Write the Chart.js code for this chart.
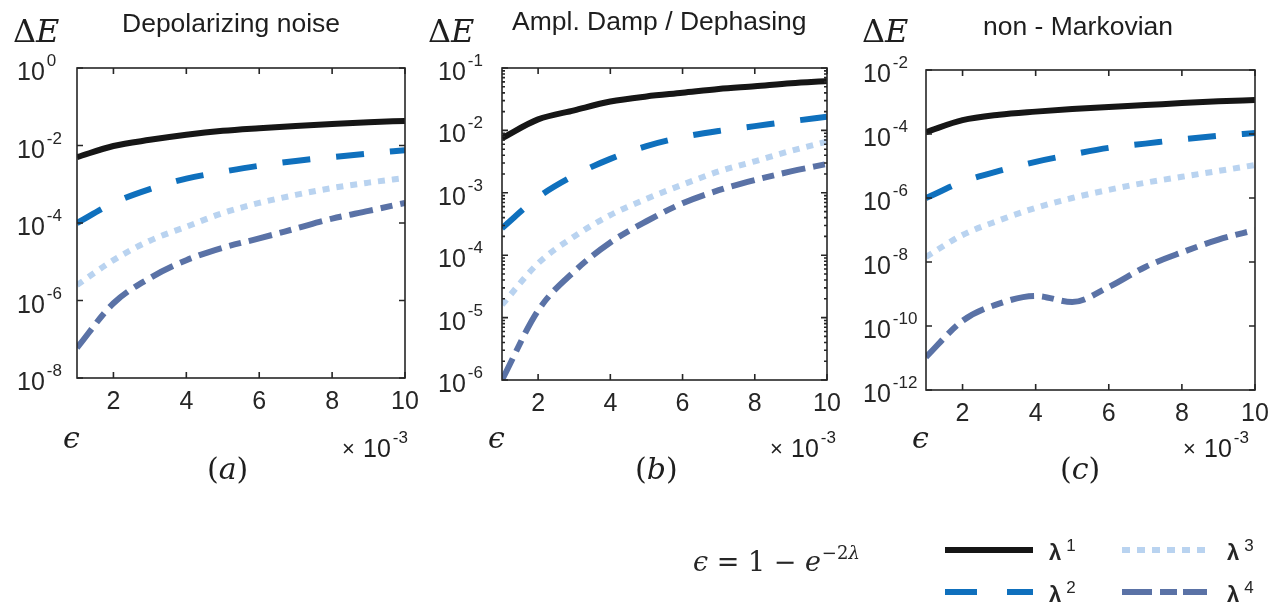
<!DOCTYPE html>
<html>
<head>
<meta charset="utf-8">
<script src="https://cdn.jsdelivr.net/npm/chart.js@4.4.0/dist/chart.umd.min.js"></script>
<style>
  html, body { margin: 0; background: #fff; width: 1269px; height: 602px; overflow: hidden; }
  canvas { position: absolute; top: 0; }
</style>
</head>
<body>
<canvas id="panelA" width="420" height="500" style="left:0"></canvas>
<canvas id="panelB" width="420" height="500" style="left:420px"></canvas>
<canvas id="panelC" width="419" height="500" style="left:850px"></canvas>
<canvas id="legend" width="589" height="82" style="left:680px;top:520px"></canvas>
<script>
// epsilon, in units of 10^-3
const eps = [1, 2, 3, 4, 5, 6, 7, 8, 9, 10];
const xTicks = [2, 4, 6, 8, 10];

// (a) depolarizing noise
const depol1 = [0.005, 0.0097, 0.014, 0.019, 0.024, 0.028, 0.032, 0.036, 0.040, 0.043];
const depol2 = [1e-4, 3.3e-4, 7.5e-4, 1.4e-3, 2.1e-3, 3.0e-3, 4.0e-3, 5.0e-3, 6.2e-3, 7.6e-3];
const depol3 = [2.5e-6, 1.1e-5, 3.5e-5, 8e-5, 1.8e-4, 3.3e-4, 5.3e-4, 8e-4, 1.1e-3, 1.45e-3];
const depol4 = [6e-8, 8.5e-7, 3.8e-6, 1.1e-5, 2.3e-5, 4e-5, 7.2e-5, 1.3e-4, 2.05e-4, 3.3e-4];
const depolTicks = [0, -2, -4, -6, -8];

// (b) amplitude damping / dephasing
const ampl1 = [0.0075, 0.015, 0.021, 0.029, 0.035, 0.040, 0.046, 0.051, 0.057, 0.062];
const ampl2 = [2.7e-4, 8.5e-4, 1.9e-3, 3.5e-3, 5.6e-3, 7.8e-3, 9.8e-3, 1.17e-2, 1.4e-2, 1.65e-2];
const ampl3 = [1.6e-5, 7.4e-5, 2e-4, 4.4e-4, 8e-4, 1.35e-3, 2.2e-3, 3.2e-3, 4.7e-3, 6.6e-3];
const ampl4 = [1e-6, 1.3e-5, 5.5e-5, 1.6e-4, 3.5e-4, 6.8e-4, 1.1e-3, 1.6e-3, 2.2e-3, 2.9e-3];
const amplTicks = [-1, -2, -3, -4, -5, -6];

// (c) non-Markovian
const nonMark1 = [1.15e-4, 2.7e-4, 4e-4, 5e-4, 6e-4, 7e-4, 8e-4, 9.3e-4, 1.05e-3, 1.15e-3];
const nonMark2 = [1e-6, 3.2e-6, 7e-6, 1.35e-5, 2.3e-5, 3.7e-5, 5e-5, 6.8e-5, 8.8e-5, 1.07e-4];
const nonMark3 = [1.45e-8, 7e-8, 2e-7, 4.9e-7, 1e-6, 1.8e-6, 3e-6, 4.6e-6, 7e-6, 1.07e-5];
const nonMark4 = [1.07e-11, 1.45e-10, 5e-10, 8.7e-10, 5.6e-10, 1.66e-9, 7e-9, 2e-8, 5e-8, 1e-7];
const nonMarkTicks = [-2, -4, -6, -8, -10, -12];

const seriesNames = ["λ", "λ", "λ", "λ"];
const seriesPowers = ["1", "2", "3", "4"];
const lineColors = ["#161616", "#0f70bd", "#b9d3f0", "#5a72a6"];
const lineDashes = [[], [28, 26], [7, 7], [24, 8, 12, 8]];

const SANS = '"Liberation Sans", Arial, sans-serif';
const SERIF = '"DejaVu Serif", serif';
const INK = "#262626";

const panels = [
  { id: "panelA", left: 0, width: 420, area: [77, 68, 405, 378], series: [depol1, depol2, depol3, depol4],
    ticks: depolTicks, minor: false, title: "Depolarizing noise", titleX: 122, titleY: 32,
    labelX: 17, deX: 13, epsX: 63, timesX: 342, letter: "a", letterX: 207 },
  { id: "panelB", left: 420, width: 420, area: [502, 68, 827, 380], series: [ampl1, ampl2, ampl3, ampl4],
    ticks: amplTicks, minor: true, title: "Ampl. Damp / Dephasing", titleX: 512, titleY: 30,
    labelX: 438, deX: 428, epsX: 488, timesX: 770, letter: "b", letterX: 635 },
  { id: "panelC", left: 850, width: 419, area: [926, 70, 1255, 390], series: [nonMark1, nonMark2, nonMark3, nonMark4],
    ticks: nonMarkTicks, minor: false, title: "non - Markovian", titleX: 983, titleY: 35,
    labelX: 863, deX: 862, epsX: 912, timesX: 1183, letter: "c", letterX: 1060 }
];

function pow10(ctx, x, base, exp, size, supSize, rise) {
  ctx.font = `${size}px ${SANS}`;
  ctx.fillText("10", x, base);
  const w = ctx.measureText("10").width;
  ctx.font = `${supSize}px ${SANS}`;
  ctx.fillText(exp, x + w + 2, base - rise);
}

function stretchText(ctx, text, x, y, sx) {
  ctx.save();
  ctx.translate(x, y);
  ctx.scale(sx, 1);
  ctx.fillText(text, 0, 0);
  ctx.restore();
}

function framePlugin(p) {
  return {
    id: "frame",
    afterDraw(chart) {
      const { ctx, chartArea: a } = chart;
      const sx = chart.scales.x, sy = chart.scales.y;
      const L = p.left;
      ctx.save();
      ctx.strokeStyle = INK;
      ctx.fillStyle = INK;
      ctx.lineWidth = 1.6;
      ctx.strokeRect(a.left, a.top, a.right - a.left, a.bottom - a.top);

      ctx.beginPath();
      xTicks.forEach(v => {
        const px = sx.getPixelForValue(v);
        ctx.moveTo(px, a.bottom); ctx.lineTo(px, a.bottom - 6);
        ctx.moveTo(px, a.top); ctx.lineTo(px, a.top + 6);
      });
      p.ticks.forEach(e => {
        const py = sy.getPixelForValue(Math.pow(10, e));
        ctx.moveTo(a.left, py); ctx.lineTo(a.left + 6, py);
        ctx.moveTo(a.right, py); ctx.lineTo(a.right - 6, py);
      });
      if (p.minor) {
        const lo = Math.min(...p.ticks), hi = Math.max(...p.ticks);
        for (let n = lo; n < hi; n++) {
          for (let k = 2; k <= 9; k++) {
            const py = sy.getPixelForValue(k * Math.pow(10, n));
            ctx.moveTo(a.left, py); ctx.lineTo(a.left + 3, py);
            ctx.moveTo(a.right, py); ctx.lineTo(a.right - 3, py);
          }
        }
      }
      ctx.stroke();

      // tick labels
      ctx.textAlign = "center";
      ctx.font = `25px ${SANS}`;
      xTicks.forEach(v => ctx.fillText(String(v), sx.getPixelForValue(v), a.bottom + 31));
      ctx.textAlign = "left";
      p.ticks.forEach(e => {
        const py = sy.getPixelForValue(Math.pow(10, e));
        pow10(ctx, p.labelX - L, py + 12, e === 0 ? "0" : "-" + (-e), 25, 17, 14);
      });

      // title
      ctx.fillStyle = "#1e1e1e";
      ctx.font = `25px ${SANS}`;
      stretchText(ctx, p.title, p.titleX - L, p.titleY, 1.06);

      // axis labels
      ctx.font = `32px ${SERIF}`;
      ctx.fillText("Δ", p.deX - L, 42);
      const dw = ctx.measureText("Δ").width;
      ctx.font = `italic 32px ${SERIF}`;
      ctx.fillText("E", p.deX - L + dw, 42);
      ctx.font = `italic 30px ${SERIF}`;
      ctx.fillText("ϵ", p.epsX - L, 448);

      // multiplier
      ctx.font = `22px ${SANS}`;
      ctx.fillText("×", p.timesX - L, 456);
      pow10(ctx, p.timesX - L + 21, 457, "-3", 25, 17, 14);

      // panel letter
      ctx.font = `30px ${SERIF}`;
      ctx.fillText("(", p.letterX - L, 479);
      let x = p.letterX - L + ctx.measureText("(").width;
      ctx.font = `italic 30px ${SERIF}`;
      ctx.fillText(p.letter, x, 479);
      x += ctx.measureText(p.letter).width;
      ctx.font = `30px ${SERIF}`;
      ctx.fillText(")", x, 479);
      ctx.restore();
    }
  };
}

panels.forEach(p => {
  const [l, t, r, b] = p.area;
  new Chart(document.getElementById(p.id), {
    type: "line",
    data: {
      datasets: p.series.map((vals, i) => ({
        label: seriesNames[i] + seriesPowers[i],
        data: eps.map((e, j) => ({ x: e, y: vals[j] })),
        borderColor: lineColors[i],
        borderDash: lineDashes[i],
        borderWidth: 6,
        borderCapStyle: "butt",
        cubicInterpolationMode: "monotone",
        pointRadius: 0,
        fill: false
      }))
    },
    options: {
      responsive: false,
      devicePixelRatio: 1,
      animation: false,
      layout: { padding: { left: l - p.left, top: t, right: p.left + p.width - r, bottom: 500 - b } },
      scales: {
        x: { type: "linear", min: 1, max: 10, display: false },
        y: { type: "logarithmic", min: Math.pow(10, Math.min(...p.ticks)), max: Math.pow(10, Math.max(...p.ticks)), display: false }
      },
      plugins: { legend: { display: false }, tooltip: { enabled: false } }
    },
    plugins: [framePlugin(p)]
  });
});

// legend and formula
(function () {
  const ctx = document.getElementById("legend").getContext("2d");
  const ox = 680, oy = 520;
  ctx.translate(-ox, -oy);
  ctx.fillStyle = INK;
  let x = 693;
  const base = 571;
  ctx.font = `italic 27px ${SERIF}`;
  ctx.fillText("ϵ", x, base); x += ctx.measureText("ϵ").width;
  ctx.font = `27px ${SERIF}`;
  ctx.fillText(" = 1 − ", x, base); x += ctx.measureText(" = 1 − ").width;
  ctx.font = `italic 27px ${SERIF}`;
  ctx.fillText("e", x, base); x += ctx.measureText("e").width + 1;
  ctx.font = `18px ${SERIF}`;
  ctx.fillText("−2", x, base - 12); x += ctx.measureText("−2").width;
  ctx.font = `italic 18px ${SERIF}`;
  ctx.fillText("λ", x, base - 12);

  const rows = [
    { x0: 945, x1: 1033, y: 550, tx: 1049 },
    { x0: 945, x1: 1033, y: 592, tx: 1049 },
    { x0: 1122, x1: 1207, y: 550, tx: 1227 },
    { x0: 1122, x1: 1207, y: 592, tx: 1227 }
  ];
  const legendDashes = [[], [32, 30], [8, 7], [30, 8, 17, 6]];
  rows.forEach((r, i) => {
    ctx.beginPath();
    ctx.strokeStyle = lineColors[i];
    ctx.lineWidth = 6;
    ctx.setLineDash(legendDashes[i]);
    ctx.moveTo(r.x0, r.y);
    ctx.lineTo(r.x1, r.y);
    ctx.stroke();
    ctx.setLineDash([]);
    ctx.fillStyle = INK;
    ctx.font = `bold 22px ${SANS}`;
    ctx.fillText(seriesNames[i], r.tx, r.y + 10);
    const w = ctx.measureText(seriesNames[i]).width;
    ctx.font = `17px ${SANS}`;
    ctx.fillText(seriesPowers[i], r.tx + w + 5, r.y + 1);
  });
})();
</script>
</body>
</html>
